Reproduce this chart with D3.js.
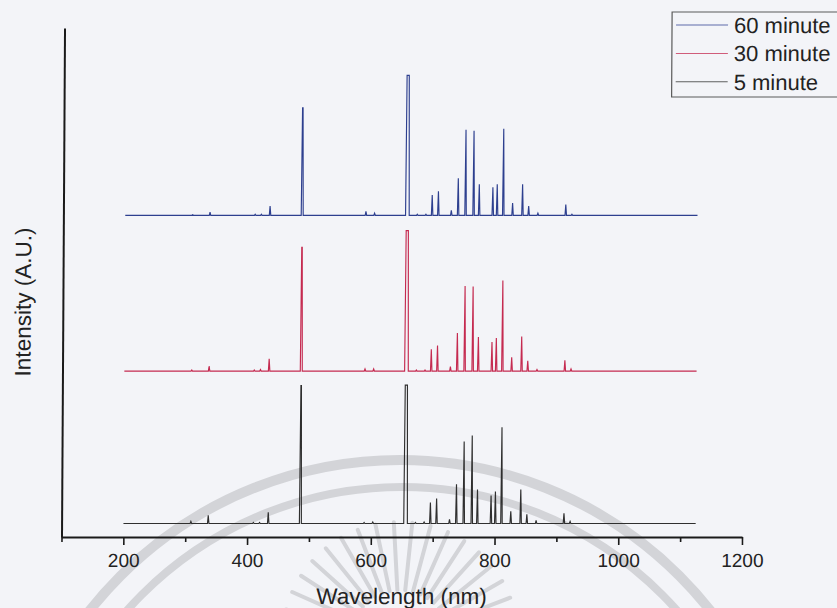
<!DOCTYPE html>
<html>
<head>
<meta charset="utf-8">
<script src="https://cdn.jsdelivr.net/npm/d3@7"></script>
<style>
  html, body { margin: 0; padding: 0; background: #f3f4f8; }
  svg { display: block; }
</style>
</head>
<body>
<script>
// Emission lines (nm) seen in the plasma spectra
const wavelengths = [309, 337, 410, 420, 434, 486, 589, 603, 656, 672, 686, 696, 706, 727, 738, 750, 763, 772, 794, 801, 811, 826, 842, 852, 867, 912, 922];
// Flat-top width of each line (nm); H-alpha is saturated
const lineWidths  = [0, 0, 0, 0, 0, 0.8, 0, 0, 3.5, 0, 0, 0, 0, 0, 0, 0, 0, 0, 0, 0, 0, 0, 0, 0, 0, 0, 0];

// Peak intensities above each baseline (A.U.)
const min60 = [0.1, 0.6, 0.2, 0.2, 1.8, 21.1, 0.8, 0.4, 27.5, 0.2, 0.2, 4.0, 4.7, 1.0, 7.3, 16.8, 16.6, 6.1, 5.5, 6.1, 17.0, 2.4, 6.1, 1.8, 0.4, 2.1, 0.2];
const min30 = [0.2, 1.0, 0.2, 0.3, 2.4, 24.3, 0.4, 0.4, 27.6, 0.2, 0.2, 4.3, 5.0, 0.9, 7.5, 16.7, 16.6, 6.7, 5.7, 6.5, 17.8, 2.7, 6.8, 2.0, 0.3, 2.1, 0.4];
const min5  = [0.4, 1.6, 0.2, 0.2, 2.2, 27.1, 0.2, 0.3, 27.2, 0.2, 0.3, 4.1, 4.9, 0.8, 7.7, 16.1, 17.3, 6.7, 5.5, 6.3, 18.9, 2.4, 6.7, 1.8, 0.6, 2.0, 0.4];

const seriesNames = ["60 minute", "30 minute", "5 minute"];
const seriesValues = [min60, min30, min5];
const baselines = [63.2, 32.6, 2.65];   // vertical stacking offsets (A.U.)
const spectralRange = [200, 1125];      // recorded wavelength span (nm)
const seriesColors = ["#2d3f8f", "#c52a50", "#2f2f2f"];

const majorTicks = [200, 400, 600, 800, 1000, 1200];
const minorTicks = [100, 300, 500, 700, 900, 1100];

const W = 837, H = 608;
const font = "'Liberation Sans', Arial, Helvetica, sans-serif";

const svg = d3.select("body").append("svg")
  .attr("width", W).attr("height", H);

svg.append("rect").attr("width", W).attr("height", H).attr("fill", "#f3f4f8");

// Faint seal watermark behind the plot
const wm = svg.append("g").attr("fill", "none").attr("stroke", "#d3d4d8").attr("stroke-linecap", "round");
wm.append("circle").attr("cx", 400).attr("cy", 855).attr("r", 395).attr("stroke-width", 10);
wm.append("circle").attr("cx", 402).attr("cy", 855).attr("r", 368).attr("stroke-width", 8);
const rayAngles = d3.range(-165, -14, 9);
wm.selectAll("line.ray").data(rayAngles).join("line")
  .attr("class", "ray")
  .attr("x1", a => 400 + 50 * Math.cos(a * Math.PI / 180))
  .attr("y1", a => 640 + 50 * Math.sin(a * Math.PI / 180))
  .attr("x2", a => 400 + 118 * Math.cos(a * Math.PI / 180))
  .attr("y2", a => 640 + 118 * Math.sin(a * Math.PI / 180))
  .attr("stroke-width", 4);

const axisY = 537;
const chart = svg.append("g")
  .attr("transform", `translate(0,${axisY}) skewX(-0.34) translate(0,${-axisY})`);

const x = d3.scaleLinear().domain([100, 1200]).range([61.5, 742]);
const y = d3.scaleLinear().domain([0, 100]).range([axisY, 28]);

// Build each stacked stick spectrum from its line list
function spectrumPoints(values, base) {
  const pts = [[spectralRange[0], base]];
  wavelengths.forEach((wl, i) => {
    const half = lineWidths[i] / 2;
    pts.push([wl - half - 1.2, base]);
    pts.push([wl - half, base + values[i]]);
    pts.push([wl + half, base + values[i]]);
    pts.push([wl + half + 1.2, base]);
  });
  pts.push([spectralRange[1], base]);
  return pts;
}

const line = d3.line().x(d => x(d[0])).y(d => y(d[1]));

chart.selectAll("path.spectrum")
  .data(seriesValues.map((v, i) => ({ pts: spectrumPoints(v, baselines[i]), color: seriesColors[i] })))
  .join("path")
  .attr("class", "spectrum")
  .attr("d", d => line(d.pts))
  .attr("fill", "none")
  .attr("stroke", d => d.color)
  .attr("stroke-width", 1.15)
  .attr("stroke-linejoin", "miter");

// X axis: labelled major ticks plus unlabelled minor ticks
const xAxis = chart.append("g").attr("transform", `translate(0,${axisY})`)
  .call(d3.axisBottom(x).tickValues(majorTicks).tickSize(8).tickSizeOuter(0)
    .tickPadding(8.5).tickFormat(d3.format("d")));
chart.append("g").attr("transform", `translate(0,${axisY})`)
  .call(d3.axisBottom(x).tickValues(minorTicks).tickSize(5).tickSizeOuter(0).tickFormat(""))
  .call(g => g.select(".domain").remove());

xAxis.select(".domain").attr("stroke", "#1a1a1a").attr("stroke-width", 2);
chart.selectAll(".tick line").attr("stroke", "#1a1a1a").attr("stroke-width", 1.6);
xAxis.selectAll(".tick text")
  .attr("font-family", font).attr("font-size", 19).attr("fill", "#222");

// Y axis: plain spine, no ticks
const yAxis = chart.append("g").attr("transform", `translate(${x(100)},0)`)
  .call(d3.axisLeft(y).tickValues([]).tickSizeOuter(0));
yAxis.select(".domain").attr("stroke", "#1a1a1a").attr("stroke-width", 2);

chart.append("text")
  .attr("x", 402).attr("y", 604)
  .attr("text-anchor", "middle")
  .attr("font-family", font).attr("font-size", 22.5).attr("fill", "#222")
  .text("Wavelength (nm)");

chart.append("text")
  .attr("transform", "translate(29.5,302) rotate(-90)")
  .attr("text-anchor", "middle")
  .attr("font-family", font).attr("font-size", 22.5).attr("fill", "#222")
  .text("Intensity (A.U.)");

// Legend
const legend = chart.append("g");
legend.append("rect")
  .attr("x", 669).attr("y", 12).attr("width", 180).attr("height", 85)
  .attr("fill", "none").attr("stroke", "#5a5a5a").attr("stroke-width", 1.2);
const items = legend.selectAll("g.item").data(seriesNames).join("g")
  .attr("class", "item")
  .attr("transform", (d, i) => `translate(0,${25 + i * 28.4})`);
items.append("line")
  .attr("x1", 673).attr("x2", 725).attr("y1", 0).attr("y2", 0)
  .attr("stroke", (d, i) => seriesColors[i]).attr("stroke-width", 1).attr("opacity", 0.75);
items.append("text")
  .attr("x", 731).attr("y", 8)
  .attr("font-family", font).attr("font-size", 22).attr("fill", "#222")
  .text(d => d);
</script>
</body>
</html>
